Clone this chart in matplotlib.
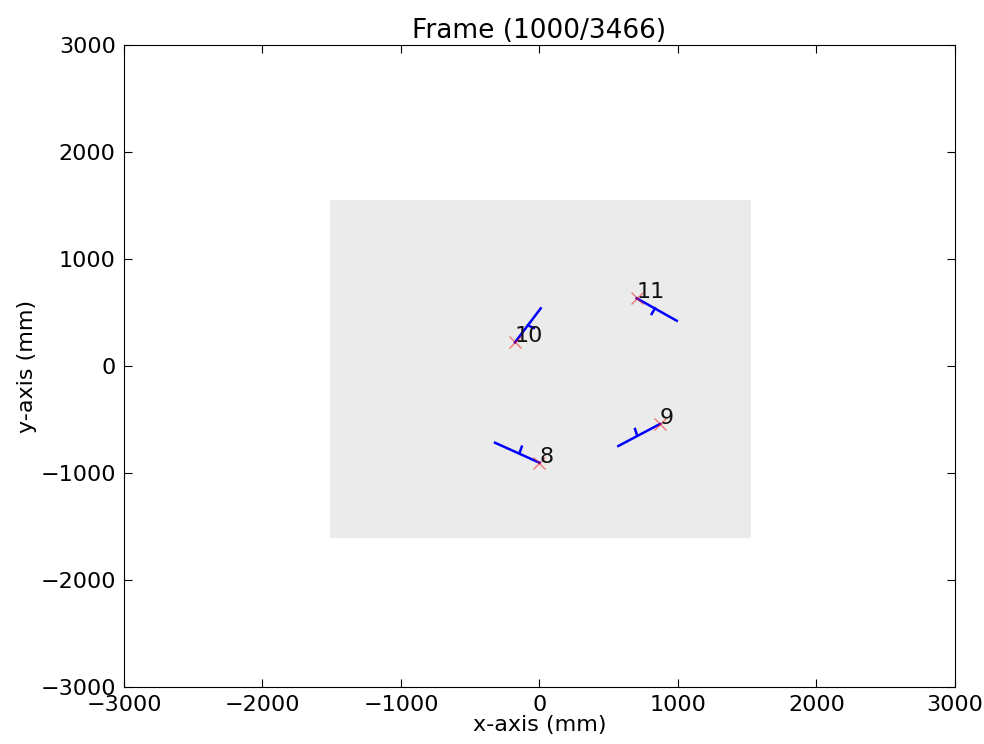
import numpy as np
from matplotlib import pyplot as plt
from matplotlib.patches import Rectangle

# tracked objects: id, position (mm), end of heading line, tick base and tip
ids = [8, 9, 10, 11]
pos_x = np.array([0, 870, -177, 702])
pos_y = np.array([-904, -542, 221, 633])
end_x = np.array([-321, 569, 9, 991])
end_y = np.array([-717, -748, 539, 423])
tick_x0 = np.array([-141, 702, -84, 834])
tick_y0 = np.array([-801, -638, 380, 539])
tick_x1 = np.array([-128, 690, -40, 810])
tick_y1 = np.array([-754, -589, 355, 486])

# room area
room_x = [-1510, 1530]
room_y = [-1605, 1550]

frame, n_frames = 1000, 3466

plt.rcParams['font.family'] = 'DejaVu Sans'
fig = plt.figure(figsize=(9.84, 7.44), dpi=100)
ax = fig.add_axes([0.126, 0.0766, 0.8445, 0.8629])

ax.add_patch(Rectangle((room_x[0], room_y[0]), room_x[1] - room_x[0], room_y[1] - room_y[0],
                       facecolor='#ebebeb', edgecolor='none', zorder=0))

for i in range(len(ids)):
    ax.plot([pos_x[i], end_x[i]], [pos_y[i], end_y[i]], color='b', lw=1.8, zorder=2)
    ax.plot([tick_x0[i], tick_x1[i]], [tick_y0[i], tick_y1[i]], color='b', lw=1.8, zorder=2)
    ax.plot(pos_x[i], pos_y[i], 'x', color='r', alpha=0.5, ms=9, mew=1, zorder=3)
    ax.text(pos_x[i], pos_y[i], str(ids[i]), fontsize=16, color='#111111', zorder=4)

ax.set_xlim(-3000, 3000)
ax.set_ylim(-3000, 3000)
ax.set_xticks(np.arange(-3000, 3001, 1000))
ax.set_yticks(np.arange(-3000, 3001, 1000))
ax.tick_params(direction='in', top=True, right=True, labelsize=16, length=6, pad=6)
ax.set_xlabel('x-axis (mm)', fontsize=16, labelpad=0)
ax.set_ylabel('y-axis (mm)', fontsize=16, labelpad=2)
ax.set_title('Frame (%d/%d)' % (frame, n_frames), fontsize=19, pad=5)

plt.savefig('out.png')
